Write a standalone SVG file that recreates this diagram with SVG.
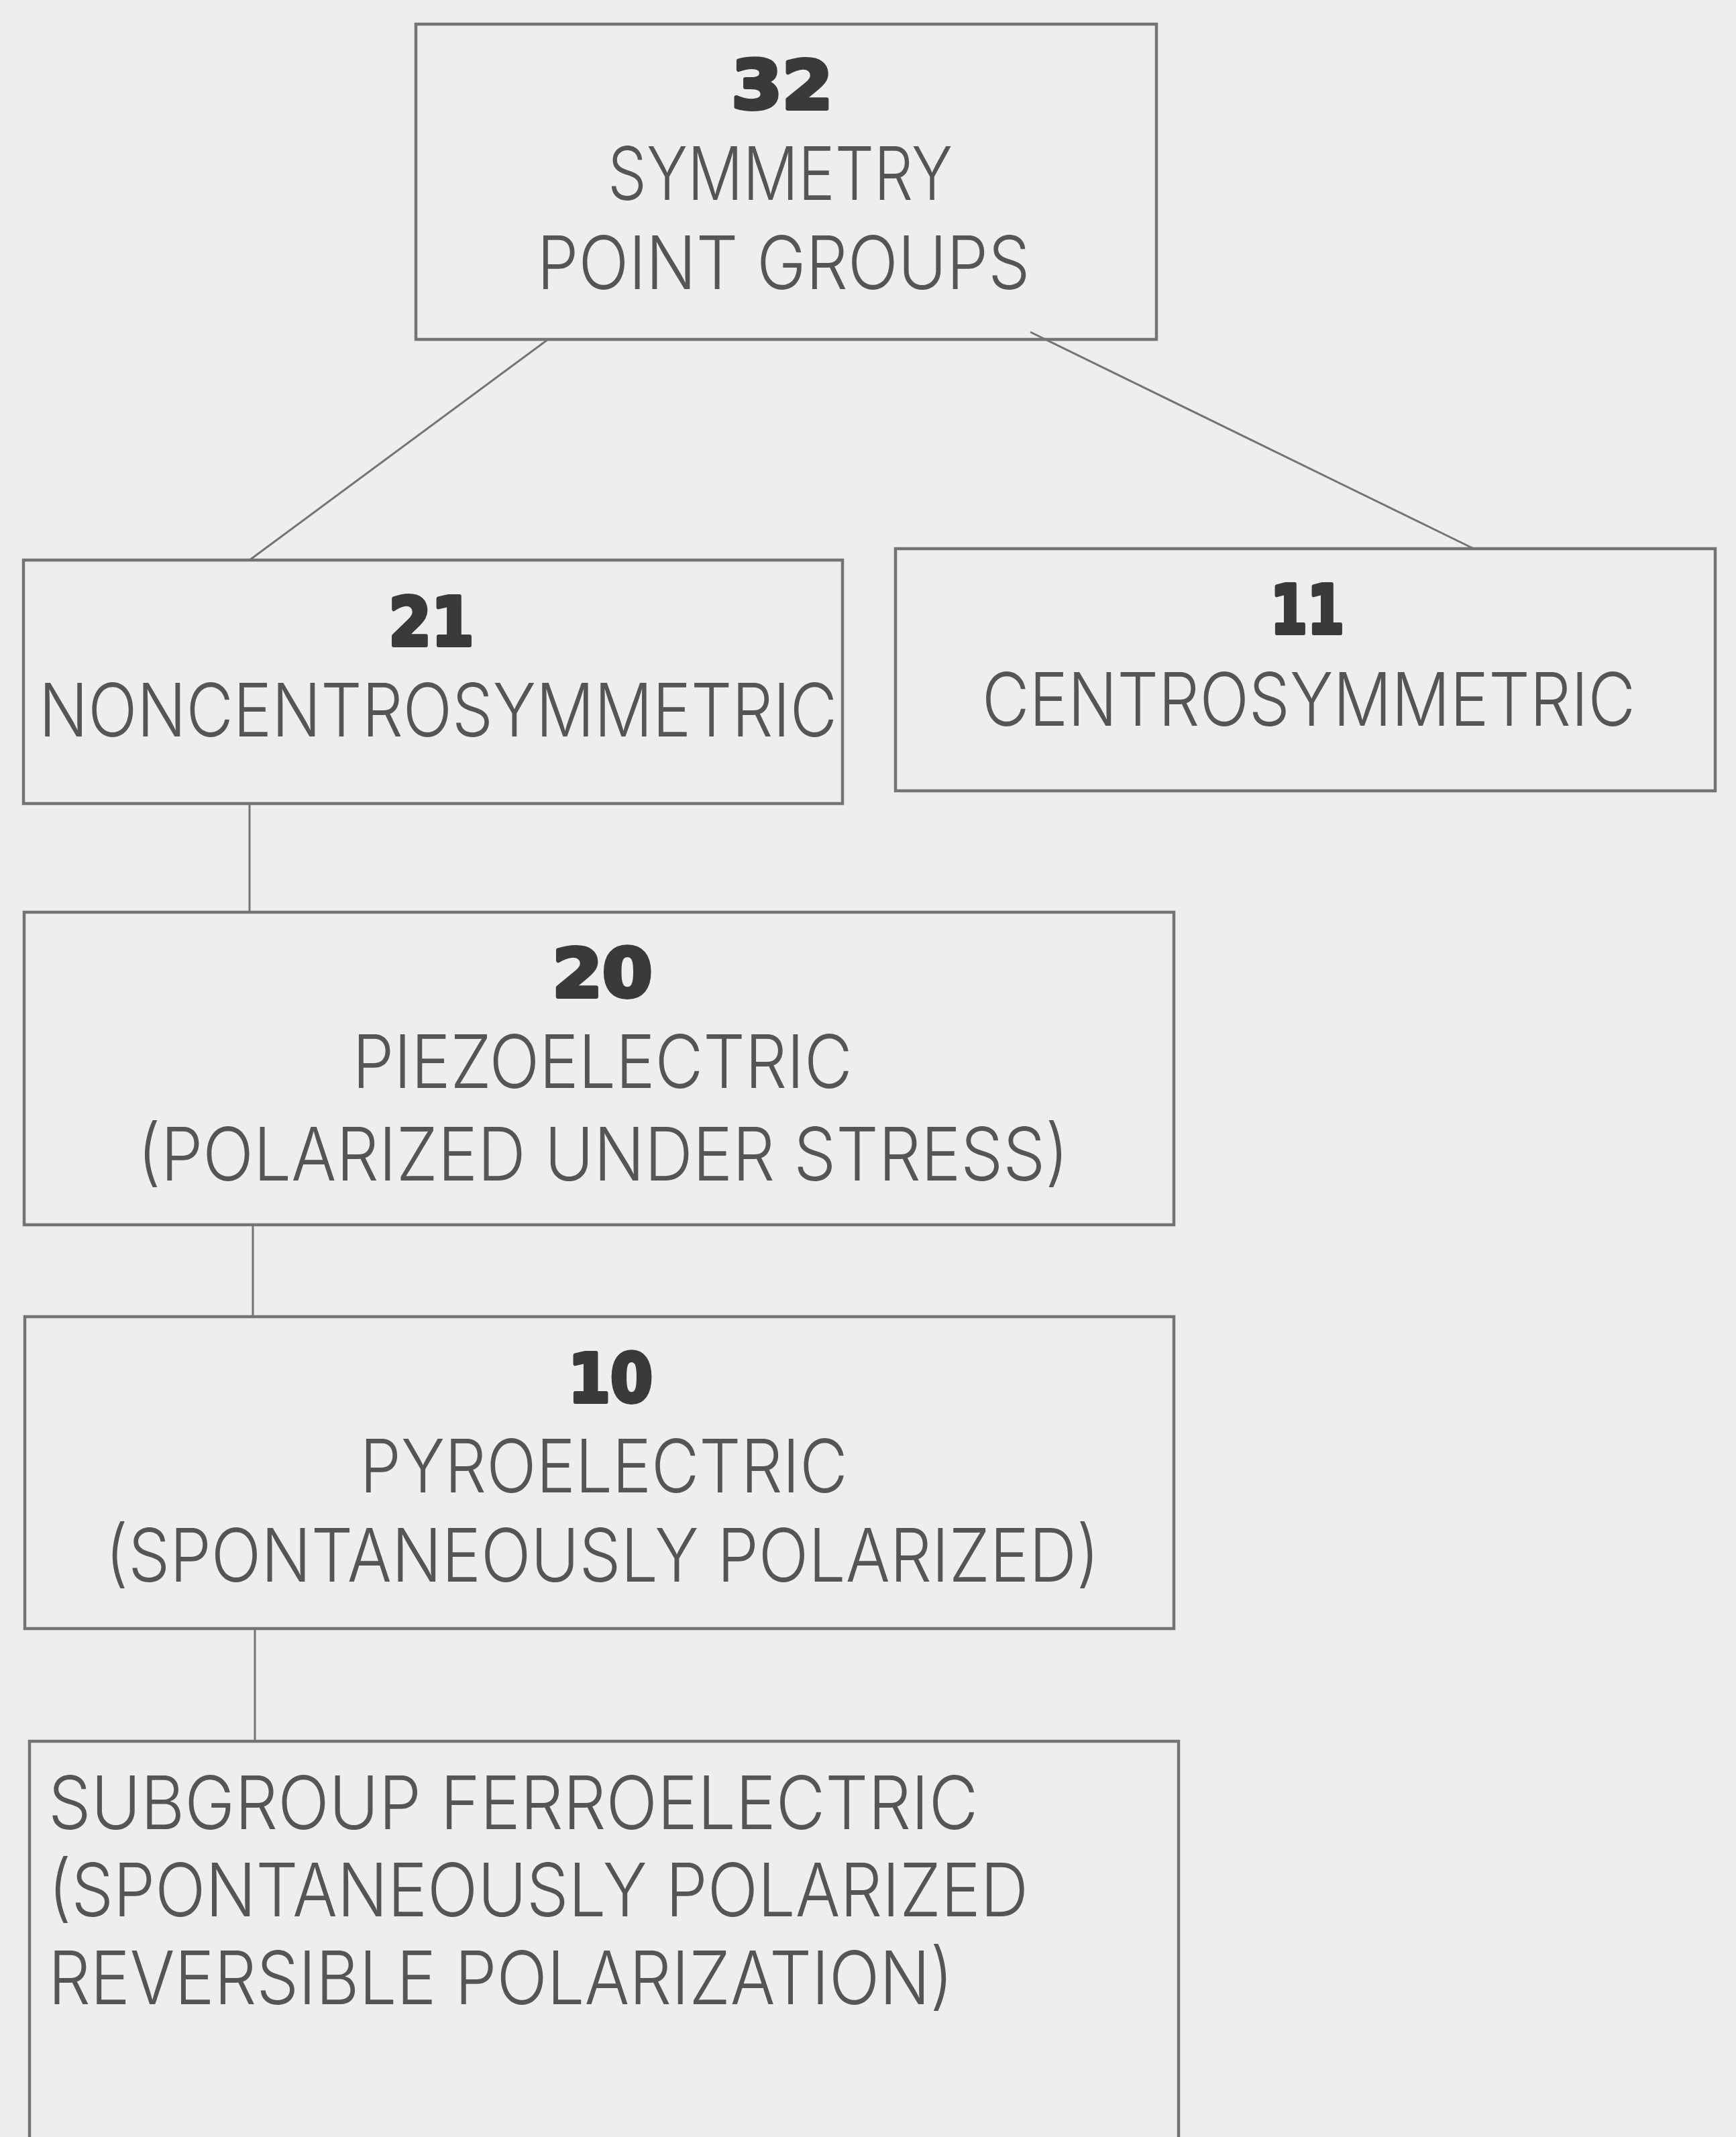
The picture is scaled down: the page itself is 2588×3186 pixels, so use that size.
<svg xmlns="http://www.w3.org/2000/svg" width="2588" height="3186" viewBox="0 0 2588 3186">
<style>
.box{fill:none;stroke:#737476;stroke-width:4.5}
.con{stroke:#737476;stroke-width:3;fill:none}
.num{font-family:"DejaVu Sans","Liberation Sans",sans-serif;font-weight:bold;font-size:100px;fill:#3a3a3c;stroke:#3a3a3c;stroke-width:6;stroke-linejoin:round;text-anchor:middle}
.lbl{font-family:Inter,"Liberation Sans",sans-serif;font-weight:300;font-size:110px;fill:#545557;text-anchor:middle}
.lft{text-anchor:start}
</style>
<rect x="0" y="0" width="2588" height="3186" fill="#eceef0"/>
<g id="connectors">
<line class="con" x1="817" y1="506" x2="372" y2="835"/>
<line class="con" x1="1536" y1="495" x2="2197" y2="818"/>
<line class="con" x1="372" y1="1199" x2="372" y2="1360"/>
<line class="con" x1="377" y1="1827" x2="377" y2="1963"/>
<line class="con" x1="380" y1="2429" x2="380" y2="2596"/>
</g>
<g id="n32">
<rect class="box" x="620" y="36" width="1104" height="470"/>
<text class="num" x="1166" y="162" textLength="151" lengthAdjust="spacingAndGlyphs">32</text>
<text class="lbl" x="1163" y="298" textLength="514" lengthAdjust="spacingAndGlyphs">SYMMETRY</text>
<text class="lbl" x="1168" y="431" textLength="735" lengthAdjust="spacingAndGlyphs">POINT GROUPS</text>
</g>
<g id="n21">
<rect class="box" x="35" y="835" width="1221" height="363"/>
<text class="num" x="643" y="962" textLength="127" lengthAdjust="spacingAndGlyphs">21</text>
<text class="lbl" x="653" y="1098" textLength="1190" lengthAdjust="spacingAndGlyphs">NONCENTROSYMMETRIC</text>
</g>
<g id="n11">
<rect class="box" x="1335" y="818" width="1222" height="361"/>
<text class="num" x="1949" y="944" textLength="110" lengthAdjust="spacingAndGlyphs">11</text>
<text class="lbl" x="1951" y="1082" textLength="974" lengthAdjust="spacingAndGlyphs">CENTROSYMMETRIC</text>
</g>
<g id="n20">
<rect class="box" x="36" y="1360" width="1714" height="466"/>
<text class="num" x="898" y="1486" textLength="149" lengthAdjust="spacingAndGlyphs">20</text>
<text class="lbl" x="898" y="1622" textLength="745" lengthAdjust="spacingAndGlyphs">PIEZOELECTRIC</text>
<text class="lbl" x="899" y="1760" textLength="1388" lengthAdjust="spacingAndGlyphs">(POLARIZED UNDER STRESS)</text>
</g>
<g id="n10">
<rect class="box" x="37" y="1963" width="1713" height="465"/>
<text class="num" x="910" y="2090" textLength="126" lengthAdjust="spacingAndGlyphs">10</text>
<text class="lbl" x="900" y="2225" textLength="727" lengthAdjust="spacingAndGlyphs">PYROELECTRIC</text>
<text class="lbl" x="898" y="2358" textLength="1482" lengthAdjust="spacingAndGlyphs">(SPONTANEOUSLY POLARIZED)</text>
</g>
<g id="nferro">
<rect class="box" x="44" y="2596" width="1713" height="700"/>
<text class="lbl lft" x="72" y="2727" textLength="1386" lengthAdjust="spacingAndGlyphs">SUBGROUP FERROELECTRIC</text>
<text class="lbl lft" x="72" y="2857" textLength="1461" lengthAdjust="spacingAndGlyphs">(SPONTANEOUSLY POLARIZED</text>
<text class="lbl lft" x="72" y="2988" textLength="1349" lengthAdjust="spacingAndGlyphs">REVERSIBLE POLARIZATION)</text>
</g>
</svg>
